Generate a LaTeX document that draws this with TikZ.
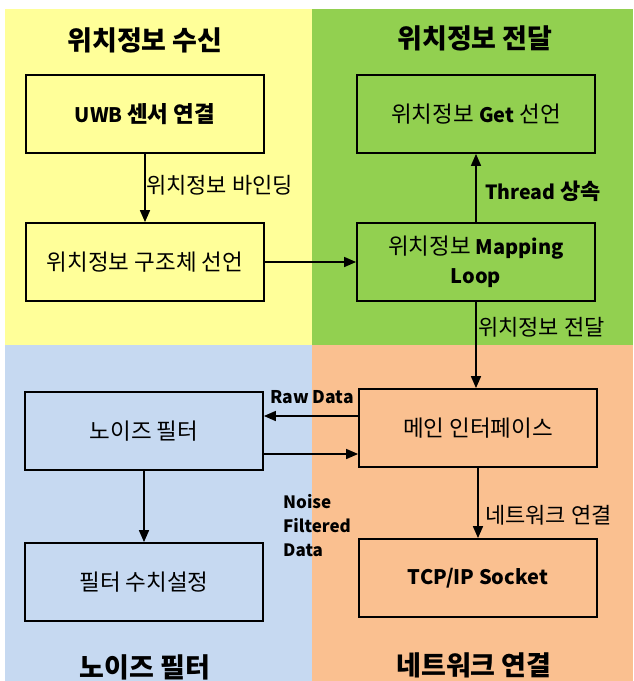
\documentclass[tikz,border=0pt]{standalone}
\usepackage{fontspec}
\setmainfont{Noto Sans CJK KR}
\usetikzlibrary{arrows.meta}
\definecolor{qyellow}{HTML}{FFFF99}
\definecolor{qgreen}{HTML}{92D050}
\definecolor{qblue}{HTML}{C6D9F1}
\definecolor{qorange}{HTML}{FAC090}
\tikzset{
  box/.style={draw=black, line width=1.8pt, minimum width=238pt, minimum height=78pt, inner sep=0pt, align=center, font=\fontsize{22.5}{29}\selectfont},
  title/.style={font=\fontsize{27}{30}\selectfont\bfseries, inner sep=0pt},
  lbl/.style={font=\fontsize{22}{24}\selectfont, inner sep=0pt},
  conn/.style={line width=1.6pt, -{Triangle[length=12pt,width=10pt]}}
}
\begin{document}
\begin{tikzpicture}[x=1pt,y=-1pt]
\useasboundingbox (0,0) rectangle (633,681);
\fill[white] (0,0) rectangle (633,681);
\fill[qyellow] (5,9) rectangle (312,345);
\fill[qgreen] (312,9) rectangle (633,345);
\fill[qblue] (5,345) rectangle (312,681);
\fill[qorange] (312,345) rectangle (633,681);

\node[title] (t1) at (145,40) {위치정보 수신};
\node[title] (t2) at (475,38) {위치정보 전달};
\node[title] (t3) at (145,667) {노이즈 필터};
\node[title] (t4) at (474,665) {네트워크 연결};

\node[box, fill=qyellow] (b1) at (145,114) {\fontsize{20}{29}\selectfont\bfseries UWB \fontsize{22.5}{29}\selectfont 센서 연결};
\node[box, fill=qyellow] (b2) at (145,262) {위치정보 구조체 선언};
\node[box, fill=qgreen] (b3) at (476,114) {위치정보 {\fontsize{20}{29}\selectfont\bfseries Get} 선언};
\node[box, fill=qgreen] (b4) at (476,262) {위치정보 {\fontsize{20}{29}\selectfont\bfseries Mapping}\\{\fontsize{20}{29}\selectfont\bfseries Loop}};
\node[box, fill=qblue] (b5) at (144,431) {노이즈 필터};
\node[box, fill=qblue] (b6) at (144,582) {필터 수치설정};
\node[box, fill=qorange] (b7) at (478,428) {메인 인터페이스};
\node[box, fill=qorange] (b8) at (478,578) {\fontsize{20}{29}\selectfont\bfseries TCP/IP Socket};

\draw[conn] (b1.south) -- (b2.north);
\draw[conn] (b2.east) -- (b4.west);
\draw[conn] (b4.north) -- (b3.south);
\draw[conn] (b4.south) -- (b7.north -| b4.south);
\draw[conn] (b5.south) -- (b6.north);
\draw[conn] (b7.south) -- (b8.north);
\draw[conn] (b7.west |- 0,416) -- (b5.east |- 0,416);
\draw[conn] (b5.east |- 0,454) -- (b7.west |- 0,454);

\node[lbl, anchor=west] (l1) at (146,185) {위치정보 바인딩};
\node[lbl, anchor=west] (l2) at (485,191) {\bfseries{\fontsize{19.5}{24}\selectfont Thread} 상속};
\node[lbl, anchor=west] (l3) at (478,327) {위치정보 전달};
\node[lbl, anchor=west, font=\fontsize{17.5}{24}\selectfont\bfseries] (l4) at (270,397) {Raw Data};
\node[lbl, anchor=north west, align=left, font=\fontsize{17}{24}\selectfont\bfseries] (l5) at (283,494) {Noise\\Filtered\\Data};
\node[lbl, anchor=west] (l6) at (485,515) {네트워크 연결};
\end{tikzpicture}
\end{document}
